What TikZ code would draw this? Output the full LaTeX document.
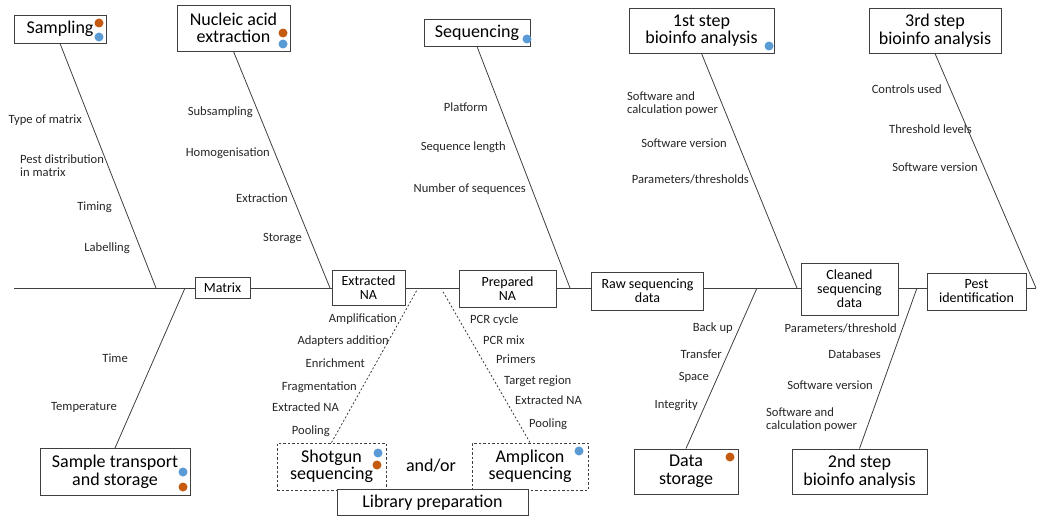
\documentclass[tikz,border=0pt]{standalone}
\usepackage{fontspec}
\setmainfont{Carlito}
\usetikzlibrary{positioning}
\definecolor{linegray}{HTML}{3F3F3F}
\definecolor{labelgray}{HTML}{262626}
\definecolor{dotorange}{HTML}{C55A11}
\definecolor{dotblue}{HTML}{5B9BD5}

\begin{document}
\begin{tikzpicture}[x=1pt, y=-1pt,
  cause/.style={draw=linegray, fill=white, line width=0.9pt, align=center,
                font=\fontsize{18}{17.5}\selectfont, inner sep=1pt},
  stage/.style={draw=linegray, fill=white, line width=0.9pt, align=center,
                font=\fontsize{14}{14}\selectfont, inner sep=1pt},
  libbox/.style={cause, dash pattern=on 2.5pt off 2pt},
  factor/.style={font=\fontsize{12.6}{13}\selectfont, text=labelgray, inner sep=0pt},
  bone/.style={linegray, line width=0.8pt},
  libline/.style={bone, dash pattern=on 2pt off 2pt},
  dotO/.style={circle, fill=dotorange, inner sep=0pt, minimum size=9pt},
  dotB/.style={circle, fill=dotblue, inner sep=0pt, minimum size=9pt},
]
\useasboundingbox (0,0) rectangle (1039,519);

% ── Spine ───────────────────────────────────────────────────────────────
\coordinate (tail) at (14,288);
\coordinate (head) at (1036,288);
\draw[bone] (tail) -- (head);

\coordinate (j-samp)  at (156,288);
\coordinate (j-trans) at (185,288);
\coordinate (j-naext) at (330,288);
\coordinate (j-shot)  at (417,290);
\coordinate (j-ampl)  at (442,290);
\coordinate (j-seq)   at (570,288);
\coordinate (j-dstor) at (757,288);
\coordinate (j-bio1)  at (797,288);
\coordinate (j-bio2)  at (917,288);
\coordinate (j-bio3)  at (1036,288);

\node[stage, minimum width=55, minimum height=21]  (matrix) at (222.5,287.5) {Matrix};
\node[stage, minimum width=73, minimum height=35]  (extna)  at (368.5,287.5) {Extracted\\NA};
\node[stage, minimum width=97, minimum height=37]  (prepna) at (507.5,288.5) {Prepared\\NA};
\node[stage, minimum width=112, minimum height=38] (rawseq) at (647.5,291)   {Raw sequencing\\data};
\node[stage, minimum width=97, minimum height=52]  (clean)  at (849.5,289)   {Cleaned\\sequencing\\data};
\node[stage, minimum width=99, minimum height=37]  (pest)   at (976.5,291.5) {Pest\\identification};

% ── Upper causes ────────────────────────────────────────────────────────
\node[cause, minimum width=92, minimum height=28]  (samp)  at (60,29)      {Sampling};
\node[cause, minimum width=113, minimum height=46] (naext) at (233.5,28)   {Nucleic acid\\extraction};
\node[cause, minimum width=106, minimum height=27] (seq)   at (477,32.5)   {Sequencing};
\node[cause, minimum width=145, minimum height=45] (bio1)  at (701.5,30.5) {1st step\\bioinfo analysis};
\node[cause, minimum width=132, minimum height=45] (bio3)  at (935,30.5)   {3rd step\\bioinfo analysis};

\draw[bone] (samp.south)  -- (j-samp);
\draw[bone] (naext.south) -- (j-naext);
\draw[bone] (seq.south)   -- (j-seq);
\draw[bone] (bio1.south)  -- (j-bio1);
\draw[bone] (bio3.south)  -- (j-bio3);

\node[dotO] (samp-o)  at (99,23)  {};
\node[dotB] (samp-b)  at (99,37)  {};
\node[dotO] (naext-o) at (283,33) {};
\node[dotB] (naext-b) at (283,44) {};
\node[dotB] (seq-b)   at (527,39) {};
\node[dotB] (bio1-b)  at (769,46) {};

\node[factor, anchor=east] (f-samp1) at (82,120)  {Type of matrix};
\node[factor, anchor=west, align=left] (f-samp2) at (20,166) {Pest distribution\\in matrix};
\node[factor, anchor=east] (f-samp3) at (112,207) {Timing};
\node[factor, anchor=east] (f-samp4) at (130,248) {Labelling};

\node[factor, anchor=east] (f-naext1) at (253,112) {Subsampling};
\node[factor, anchor=east] (f-naext2) at (270,153) {Homogenisation};
\node[factor, anchor=east] (f-naext3) at (288,198) {Extraction};
\node[factor, anchor=east] (f-naext4) at (302,238) {Storage};

\node[factor, anchor=east] (f-seq1) at (488,107) {Platform};
\node[factor, anchor=east] (f-seq2) at (506,147) {Sequence length};
\node[factor, anchor=east] (f-seq3) at (526,189) {Number of sequences};

\node[factor, anchor=west, align=left] (f-bio1a) at (627,103.5) {Software and\\calculation power};
\node[factor, anchor=east] (f-bio1b) at (727,143) {Software version};
\node[factor, anchor=east] (f-bio1c) at (749,179) {Parameters/thresholds};

\node[factor, anchor=east] (f-bio3a) at (942,89)  {Controls used};
\node[factor, anchor=east] (f-bio3b) at (972,129) {Threshold levels};
\node[factor, anchor=east] (f-bio3c) at (978,167) {Software version};

% ── Lower causes ────────────────────────────────────────────────────────
\node[cause, minimum width=150, minimum height=47] (trans)  at (115,472)   {Sample transport\\and storage};
\node[cause, minimum width=104, minimum height=45] (dstor)  at (686,471.5) {Data\\storage};
\node[cause, minimum width=135, minimum height=45] (bio2)   at (859.5,471.5) {2nd step\\bioinfo analysis};

\draw[bone] (trans.north) -- (j-trans);
\draw[bone] (dstor.north) -- (j-dstor);
\draw[bone] (bio2.north)  -- (j-bio2);

\node[dotB] (trans-b) at (183,472) {};
\node[dotO] (trans-o) at (183,487) {};
\node[dotO] (dstor-o) at (730,457) {};

\node[factor, anchor=east] (f-trans1) at (128,358) {Time};
\node[factor, anchor=east] (f-trans2) at (117,407) {Temperature};

\node[factor, anchor=east] (f-dstor1) at (733,328) {Back up};
\node[factor, anchor=east] (f-dstor2) at (722,354) {Transfer};
\node[factor, anchor=east] (f-dstor3) at (709,377) {Space};
\node[factor, anchor=east] (f-dstor4) at (698,405) {Integrity};

\node[factor, anchor=east] (f-bio2a) at (897,328) {Parameters/threshold};
\node[factor, anchor=east] (f-bio2b) at (881,354) {Databases};
\node[factor, anchor=east] (f-bio2c) at (873,385) {Software version};
\node[factor, anchor=west, align=left] (f-bio2d) at (766,419.5) {Software and\\calculation power};

% ── Library preparation ─────────────────────────────────────────────────
\node[libbox, minimum width=109, minimum height=47] (shot) at (331.5,466.5) {Shotgun\\sequencing};
\node[libbox, minimum width=116, minimum height=47] (ampl) at (530,466.5)   {Amplicon\\sequencing};
\node[cause, draw=none, fill=none] (andor) at (431,466) {and/or};
\node[cause, minimum width=191, minimum height=26] (libprep) at (432.5,502.5) {Library preparation};

\draw[libline] (shot.north) -- (j-shot);
\draw[libline] (ampl.north) -- (j-ampl);

\node[dotB] (shot-b) at (378,453) {};
\node[dotO] (shot-o) at (377,465) {};
\node[dotB] (ampl-b) at (579,451) {};

\node[factor, anchor=east] (f-shot1) at (397,319) {Amplification};
\node[factor, anchor=east] (f-shot2) at (389,341) {Adapters addition};
\node[factor, anchor=east] (f-shot3) at (365,363) {Enrichment};
\node[factor, anchor=east] (f-shot4) at (357,387) {Fragmentation};
\node[factor, anchor=east] (f-shot5) at (339,407) {Extracted NA};
\node[factor, anchor=east] (f-shot6) at (330,431) {Pooling};

\node[factor, anchor=west] (f-ampl1) at (470,320) {PCR cycle};
\node[factor, anchor=west] (f-ampl2) at (483,340) {PCR mix};
\node[factor, anchor=west] (f-ampl3) at (496,359) {Primers};
\node[factor, anchor=west] (f-ampl4) at (504,381) {Target region};
\node[factor, anchor=west] (f-ampl5) at (515,400) {Extracted NA};
\node[factor, anchor=west] (f-ampl6) at (529,424) {Pooling};

\end{tikzpicture}
\end{document}
